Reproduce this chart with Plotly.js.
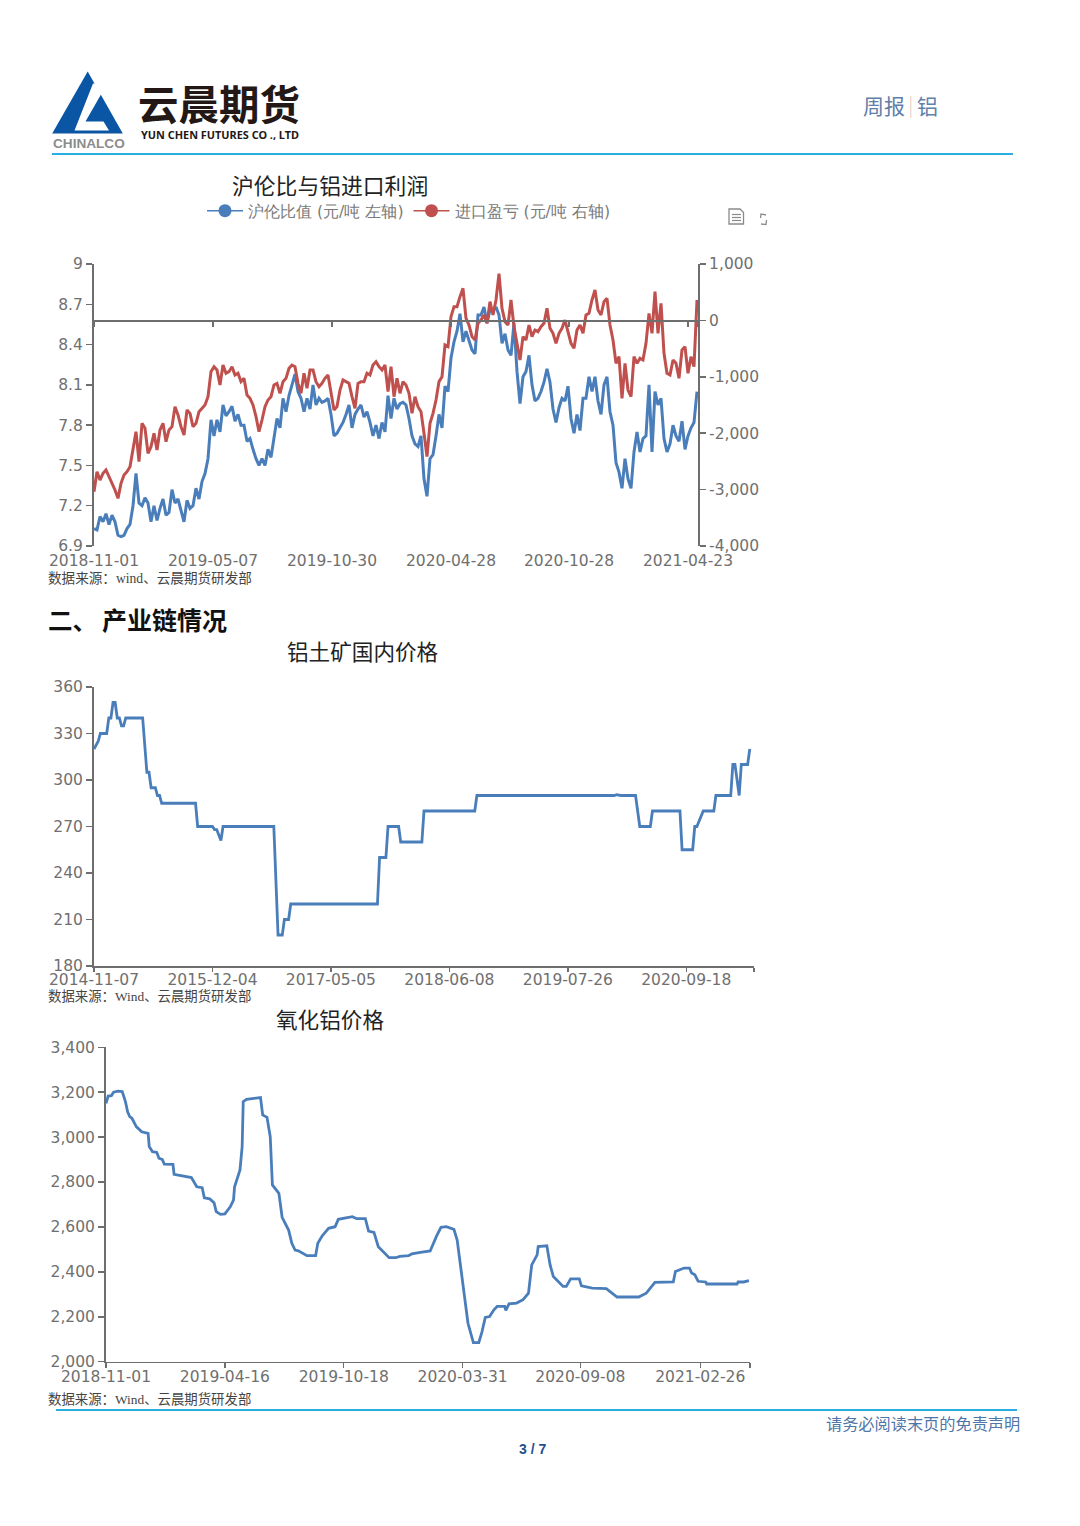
<!DOCTYPE html>
<html><head><meta charset="utf-8">
<script src="https://cdn.plot.ly/plotly-3.0.1.min.js"></script>
<style>html,body{margin:0;padding:0;background:#fff}#c{width:1080px;height:1526px}</style>
</head><body><div id="c"></div>
<script>
// Chart 1: sampled every third session
const ratioStep = 3;
const lmeRatio = [7.03,7.02,7.12,7.08,7.14,7.06,7.13,7.08,6.98,6.97,6.98,7.03,7.06,7.2,7.44,7.22,7.2,7.26,7.22,7.08,7.2,7.09,7.18,7.25,7.13,7.15,7.32,7.22,7.25,7.17,7.08,7.24,7.18,7.2,7.33,7.25,7.38,7.44,7.55,7.84,7.72,7.84,7.75,7.95,7.87,7.9,7.94,7.83,7.88,7.8,7.8,7.68,7.7,7.62,7.55,7.5,7.55,7.5,7.62,7.56,7.72,7.85,7.78,8.0,7.9,8.02,8.1,8.18,8.05,8.0,7.9,8.0,7.92,8.1,7.95,8.0,7.97,7.98,8.0,7.88,7.72,7.74,7.78,7.82,7.88,7.95,7.78,7.88,7.92,7.95,7.86,7.9,7.82,7.72,7.8,7.7,7.82,7.75,8.02,7.85,8.0,7.92,
7.96,7.97,7.95,7.85,7.72,7.66,7.64,7.72,7.4,7.27,7.55,7.58,7.72,7.88,7.78,8.09,8.05,8.3,8.42,8.5,8.63,8.42,8.5,8.42,8.36,8.33,8.62,8.62,8.68,8.56,8.66,8.65,8.68,8.62,8.41,8.48,8.36,8.32,8.56,8.2,7.96,8.16,8.2,8.32,8.1,7.98,8.0,8.05,8.12,8.22,8.12,7.92,7.82,7.93,8.0,7.98,8.09,7.85,7.74,7.88,7.76,8.0,8.0,8.16,8.05,8.16,7.98,7.88,8.1,8.16,7.9,7.8,7.52,7.45,7.33,7.55,7.4,7.33,7.6,7.75,7.6,7.7,7.72,8.1,7.6,8.05,7.95,8.0,7.7,7.6,7.66,7.8,7.72,7.68,7.83,7.62,7.72,7.78,7.82,8.05];
const importProfit = [-3037,-2682,-2830,-2712,-2652,-2770,-2860,-3007,-3155,-2889,-2741,-2682,-2593,-2298,-1973,-2505,-1825,-1914,-2357,-2239,-2002,-2298,-1943,-1825,-2150,-1943,-1884,-1529,-1677,-1884,-2032,-1588,-1648,-1884,-1825,-1618,-1559,-1500,-1352,-909,-820,-879,-1145,-791,-938,-909,-820,-968,-938,-1086,-1027,-1323,-1382,-1500,-1707,-1973,-1766,-1529,-1411,-1352,-1145,-1116,-1293,-1086,-1027,-850,-791,-820,-1116,-1293,-938,-1204,-879,-879,-1086,-1175,-1116,-1027,-968,-1293,-1588,-1529,-1234,-1057,-1086,-1116,-1352,-1559,-1116,-1086,-1086,-938,-968,-791,-732,-820,-879,-791,-1264,-820,-1352,-1027,
-1293,-1086,-1145,-1293,-1648,-1352,-1530,-1618,-2002,-2416,-1825,-1648,-1411,-1086,-998,-436,-466,66,244,244,421,568,37,-82,-288,-347,-52,7,96,-52,332,96,362,830,214,-23,-82,362,-111,-407,-702,-288,-347,-82,-288,-170,-200,-111,-52,214,-141,-229,-407,-229,-141,7,-200,-407,-495,-170,-82,-229,96,125,362,539,184,96,332,391,-82,-347,-761,-643,-1382,-761,-1234,-1352,-643,-761,-673,-702,-407,125,-229,510,-229,303,-584,-938,-968,-702,-761,-1027,-525,-466,-938,-643,-820,362];
const ratioTickVals = [0,119,238,357,475,594];
const ratioTickText = ['2018-11-01','2019-05-07','2019-10-30','2020-04-28','2020-10-28','2021-04-23'];
const ratioLeftTicks = [6.9,7.2,7.5,7.8,8.1,8.4,8.7,9];
const ratioLeftText = ['6.9','7.2','7.5','7.8','8.1','8.4','8.7','9'];
const profitTicks = [-4000,-3000,-2000,-1000,0,1000];
const profitText = ['-4,000','-3,000','-2,000','-1,000','0','1,000'];

// Chart 2: bauxite price, weekly positions at each change
const bauxiteWeek = [0,2,3,6,7,8,9,10,11,12,13,14,15,23,25,26,27,29,30,31,32,48,49,56,57,58,60,61,85,87,89,90,92,93,134,135,138,139,144,145,155,156,180,181,246,247,249,256,258,263,264,277,278,283,284,285,288,293,294,301,302,303,305,306,309,310];
const bauxitePrice = [320,325,330,330,340,340,350,350,340,340,335,335,340,340,305,305,295,295,290,290,285,285,270,270,268,268,261,270,270,200,200,210,210,220,220,250,250,270,270,260,260,280,280,290,290,290.5,290,290,270,270,280,280,255,255,270,270,280,280,290,290,310,310,290,310,310,320];
const bauxiteTickVals = [0,56,112,168,224,280,312];
const bauxiteTickText = ['2014-11-07','2015-12-04','2017-05-05','2018-06-08','2019-07-26','2020-09-18',''];
const bauxiteYTicks = [180,210,240,270,300,330,360];

// Chart 3: alumina price
const aluminaDay = [0,2,5,7,11,15,18,20,22,24,28,33,39,40,43,47,49,52,54,62,63,70,79,84,89,91,96,100,102,106,110,115,118,119,124,126,127,130,136,143,145,149,152,154,160,163,169,172,175,178,186,194,196,200,206,212,215,223,228,232,240,243,248,252,258,262,268,272,280,283,291,300,306,310,315,322,325,328,331,335,340,345,348,351,355,359,362,369,370,373,380,386,391,394,399,400,408,411,414,423,426,430,438,440,450,463,473,493,500,508,525,527,535,540,542,545,548,555,556,584,585,590,595];
const aluminaPrice = [3150,3183,3185,3200,3205,3203,3158,3113,3091,3084,3047,3024,3017,2958,2935,2932,2906,2901,2880,2879,2834,2828,2820,2779,2775,2730,2725,2708,2668,2656,2658,2690,2720,2779,2854,2958,3158,3168,3173,3176,3099,3088,3002,2787,2750,2643,2586,2527,2497,2494,2472,2472,2527,2560,2594,2601,2634,2641,2646,2637,2637,2582,2576,2512,2483,2463,2463,2469,2472,2480,2487,2493,2560,2598,2601,2589,2542,2423,2319,2171,2085,2085,2134,2197,2201,2231,2246,2246,2228,2258,2261,2276,2305,2431,2476,2513,2516,2431,2379,2335,2335,2369,2369,2338,2328,2325,2288,2288,2305,2353,2355,2402,2417,2417,2395,2387,2358,2355,2346,2346,2355,2355,2361];
const aluminaTickVals = [0,110,220,330,439,550,596];
const aluminaTickText = ['2018-11-01','2019-04-16','2019-10-18','2020-03-31','2020-09-08','2021-02-26',''];
const aluminaYTicks = [2000,2200,2400,2600,2800,3000,3200,3400];

const W=1080,H=1526;
const fx=x=>x/W, fy=y=>1-y/H;
const BLUE='#4a7ebb', RED='#c0504d', AXIS='#6e6e6e', TXT='#6f6f6f';
const FONT='"DejaVu Sans",sans-serif', CJK='"Noto Sans CJK SC","Noto Sans",sans-serif', SERIF='"Liberation Serif","Noto Sans CJK SC",serif';
const tickFont={family:FONT,size:15.5,color:TXT};

const traces=[
 {type:'scatter',mode:'lines',x0:0,dx:ratioStep,y:lmeRatio,xaxis:'x',yaxis:'y',line:{color:BLUE,width:3},showlegend:false,name:'沪伦比值'},
 {type:'scatter',mode:'lines',x0:0,dx:ratioStep,y:importProfit,xaxis:'x2',yaxis:'y2',line:{color:RED,width:3},showlegend:false,name:'进口盈亏'},
 {type:'scatter',mode:'lines+markers',x:[null],y:[null],xaxis:'x',yaxis:'y',name:'沪伦比值 (元/吨 左轴)',line:{color:BLUE,width:1.5},marker:{color:BLUE,size:13}},
 {type:'scatter',mode:'lines+markers',x:[null],y:[null],xaxis:'x',yaxis:'y',name:'进口盈亏 (元/吨 右轴)',line:{color:RED,width:1.5},marker:{color:RED,size:13}},
 {type:'scatter',mode:'lines',x:bauxiteWeek,y:bauxitePrice,xaxis:'x3',yaxis:'y3',line:{color:BLUE,width:2.8},showlegend:false,name:'铝土矿国内价格'},
 {type:'scatter',mode:'lines',x:aluminaDay,y:aluminaPrice,xaxis:'x4',yaxis:'y4',line:{color:BLUE,width:2.8},showlegend:false,name:'氧化铝价格'}
];

const yBase={showgrid:false,zeroline:false,showline:true,linecolor:AXIS,linewidth:2,ticks:'outside',ticklen:6,tickwidth:1.5,tickcolor:AXIS,tickfont:tickFont,tickmode:'array',fixedrange:true};
const xBase={showgrid:false,zeroline:false,tickfont:tickFont,tickmode:'array',fixedrange:true};

function note(text,x,y,size,color,extra){
 return Object.assign({text,x:fx(x),y:fy(y),xref:'paper',yref:'paper',xanchor:'left',yanchor:'middle',showarrow:false,
  font:{family:CJK,size,color},borderpad:0},extra||{});
}
function path(d,fill,line,lw){
 return {type:'path',xref:'paper',yref:'paper',path:d,fillcolor:fill||'rgba(0,0,0,0)',line:{color:line||'rgba(0,0,0,0)',width:lw||0}};
}
function P(pts,close){return pts.map((p,i)=>(i?'L':'M')+fx(p[0]).toFixed(5)+','+fy(p[1]).toFixed(5)).join(' ')+(close?' Z':'');}

const layout={
 width:W,height:H,margin:{l:0,r:0,t:0,b:0},paper_bgcolor:'#fff',plot_bgcolor:'rgba(0,0,0,0)',
 showlegend:true,
 legend:{orientation:'h',x:fx(202),y:fy(194),xanchor:'left',yanchor:'top',font:{family:FONT,size:15.7,color:'#7a7a7a'},bgcolor:'rgba(0,0,0,0)',itemwidth:36,itemclick:false,itemdoubleclick:false},
 xaxis:Object.assign({},xBase,{domain:[fx(94),fx(698)],range:[0,604],anchor:'y',tickvals:ratioTickVals,ticktext:ratioTickText,showline:false,ticks:'',ticklabelstandoff:3}),
 xaxis2:Object.assign({},xBase,{domain:[fx(94),fx(698)],range:[0,604],overlaying:'x',anchor:'free',position:fy(320.4),tickvals:ratioTickVals.concat([604]),showticklabels:false,showline:true,linecolor:AXIS,linewidth:1.5,ticks:'outside',ticklen:5,tickcolor:AXIS,tickwidth:1.5}),
 yaxis:Object.assign({},yBase,{domain:[fy(546),fy(264)],range:[6.9,9],anchor:'x',tickvals:ratioLeftTicks,ticktext:ratioLeftText}),
 yaxis2:Object.assign({},yBase,{domain:[fy(546),fy(264)],range:[-4000,1000],overlaying:'y',anchor:'x',side:'right',tickvals:profitTicks,ticktext:profitText}),
 xaxis3:Object.assign({},xBase,{domain:[fx(94),fx(754)],range:[0,312],anchor:'y3',tickvals:bauxiteTickVals,ticktext:bauxiteTickText,showline:true,linecolor:AXIS,linewidth:1.5,ticks:'outside',ticklen:4,tickcolor:AXIS,tickwidth:1.5,ticklabelstandoff:-5}),
 yaxis3:Object.assign({},yBase,{domain:[fy(966),fy(687)],range:[180,360],anchor:'x3',tickvals:bauxiteYTicks}),
 xaxis4:Object.assign({},xBase,{domain:[fx(106),fx(750)],range:[0,596],anchor:'y4',tickvals:aluminaTickVals,ticktext:aluminaTickText,showline:true,linecolor:AXIS,linewidth:1.5,ticks:'outside',ticklen:5,tickcolor:AXIS,tickwidth:1.5,ticklabelstandoff:-5}),
 yaxis4:Object.assign({},yBase,{domain:[fy(1361.7),fy(1047.3)],range:[2000,3400],anchor:'x4',tickvals:aluminaYTicks,tickformat:','}),
 shapes:[
  {type:'line',xref:'paper',yref:'paper',x0:fx(52),x1:fx(1013),y0:fy(154),y1:fy(154),line:{color:'#2aaee6',width:2}},
  {type:'line',xref:'paper',yref:'paper',x0:fx(56),x1:fx(1017),y0:fy(1410),y1:fy(1410),line:{color:'#2aaee6',width:2}},
  {type:'line',xref:'paper',yref:'paper',x0:fx(910.8),x1:fx(910.8),y0:fy(96),y1:fy(118),line:{color:'#e5c9b8',width:1}},
  path(P([[87.7,71.5],[122.8,133.5],[52.2,133.5]],true),'#0b55a5'),
  path(P([[93,83.5],[107,84],[85.5,121.5],[103.5,121.5],[109,130.5],[74.5,130.5]],true),'#ffffff'),
  path(P([[729,209],[740,209],[743.5,212.5],[743.5,224],[729,224]],true),'rgba(0,0,0,0)','#8a8a8a',1.3),
  path(P([[732,214.5],[741,214.5]]),null,'#8a8a8a',1.2),
  path(P([[732,217.5],[741,217.5]]),null,'#8a8a8a',1.2),
  path(P([[732,220.5],[741,220.5]]),null,'#8a8a8a',1.2),
  path(P([[766,215],[761,214],[760.5,218]]),null,'#8a8a8a',1.3),
  path(P([[761,224],[766,224.5],[766.5,220]]),null,'#8a8a8a',1.3)
 ],
 annotations:[
  note('<b>云晨期货</b>',136.5,102,40.5,'#231815'),
  note('<b>YUN CHEN FUTURES CO ., LTD</b>',140,134.5,10.9,'#231815',{font:{family:'"Noto Sans",sans-serif',size:10.9,color:'#231815'}}),
  note('<b>CHINALCO</b>',51.5,144,13.6,'#8c8c8c',{font:{family:'"Liberation Sans",sans-serif',size:13.6,color:'#8c8c8c'}}),
  note('周报',862,105,21,'#5f80a8'),
  note('铝',916,105,21,'#5f80a8'),
  note('沪伦比与铝进口利润',231,185,21.8,'#222222'),
  note('数据来源：wind、云晨期货研发部',46.5,578,13.6,'#444444',{font:{family:SERIF,size:13.6,color:'#444444'}}),
  note('<b>二、</b>',46.5,619,24.5,'#111111'),
  note('<b>产业链情况</b>',101,619,25,'#111111'),
  note('铝土矿国内价格',286,650,21.6,'#222222'),
  note('数据来源：Wind、云晨期货研发部',46.5,996,13.4,'#444444',{font:{family:SERIF,size:13.4,color:'#444444'}}),
  note('氧化铝价格',275,1018,21.6,'#222222'),
  note('数据来源：Wind、云晨期货研发部',46.5,1399,13.4,'#444444',{font:{family:SERIF,size:13.4,color:'#444444'}}),
  note('请务必阅读末页的免责声明',824.5,1424.5,16.2,'#4f76a8',{font:{family:SERIF,size:16.2,color:'#4f76a8'}}),
  note('<b>3 / 7</b>',517.5,1449,14,'#1f4f8f',{font:{family:'"Liberation Sans",sans-serif',size:14,color:'#1f4f8f'}})
 ]
};
Plotly.newPlot('c',traces,layout,{displayModeBar:false,staticPlot:true});
</script></body></html>
